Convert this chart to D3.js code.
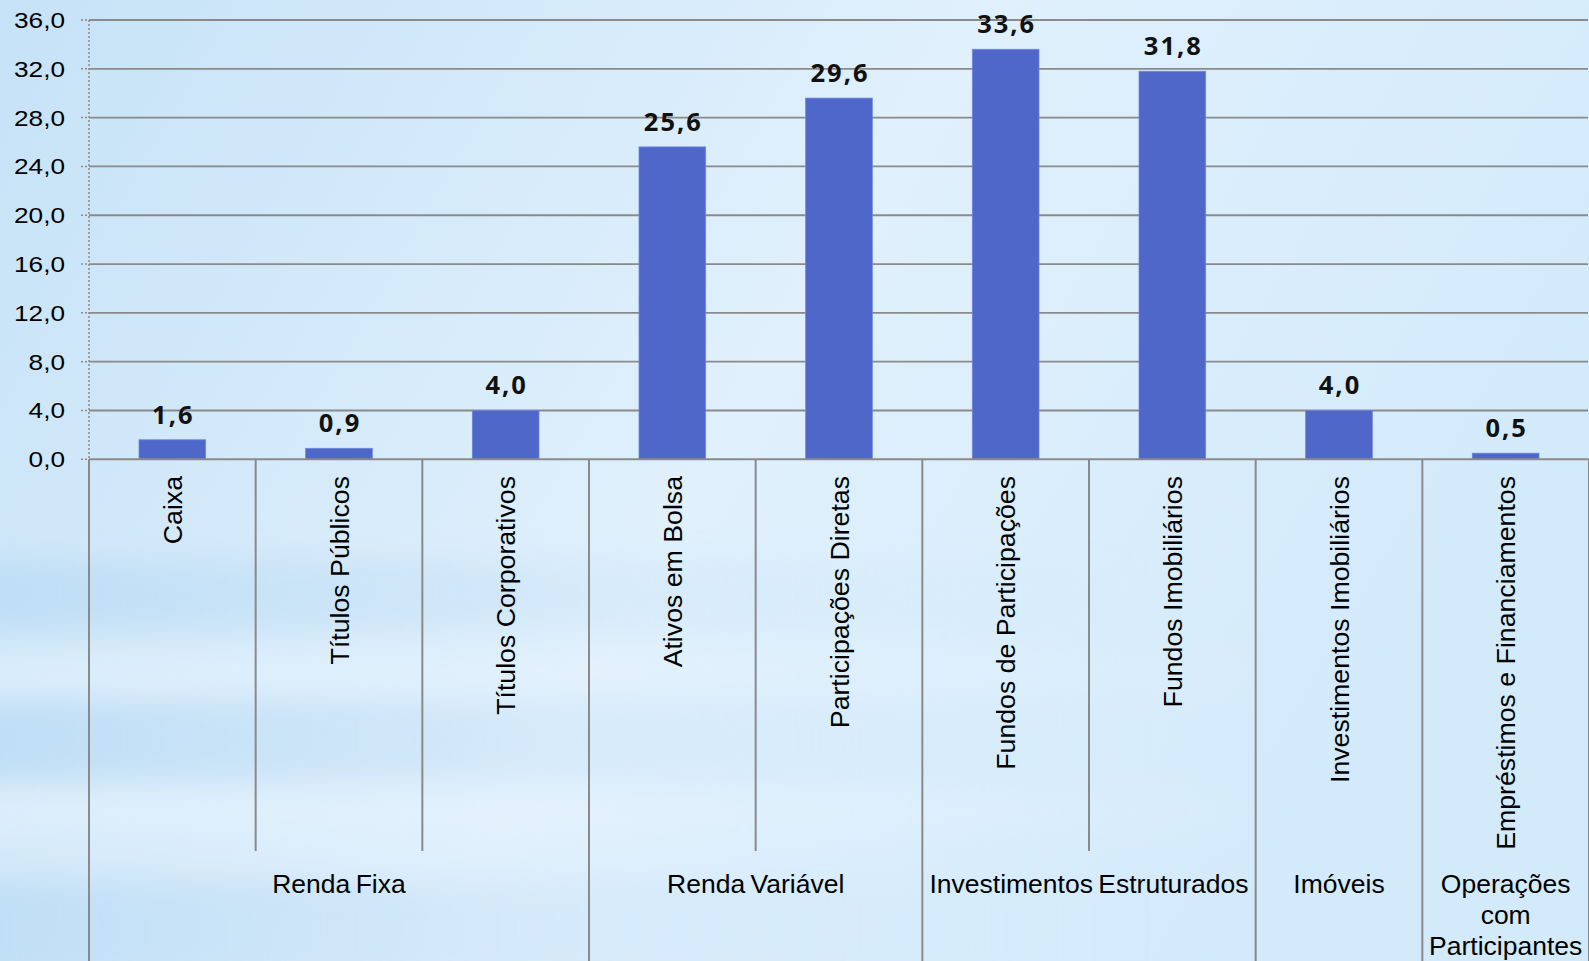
<!DOCTYPE html>
<html>
<head>
<meta charset="utf-8">
<script src="https://cdn.jsdelivr.net/npm/d3@7"></script>
<style>
  html, body { margin: 0; padding: 0; overflow: hidden; background: #d4eafa; }
  svg { display: block; }
</style>
</head>
<body>
<svg id="chart" width="1589" height="961"></svg>
<script>
// Allocation by asset type (%)
const categories = [
  "Caixa", "Títulos Públicos", "Títulos Corporativos",
  "Ativos em Bolsa", "Participações Diretas",
  "Fundos de Participações", "Fundos Imobiliários",
  "Investimentos Imobiliários",
  "Empréstimos e Financiamentos"
];
const values = [1.6, 0.9, 4.0, 25.6, 29.6, 33.6, 31.8, 4.0, 0.5];

// Asset groups: label lines and how many categories each spans
const groupLabels = [
  ["Renda Fixa"],
  ["Renda Variável"],
  ["Investimentos Estruturados"],
  ["Imóveis"],
  ["Operações", "com", "Participantes"]
];
const groupSizes = [3, 2, 2, 1, 1];

const yTicks = [0, 4, 8, 12, 16, 20, 24, 28, 32, 36];

const W = 1589, H = 961;
const svg = d3.select("#chart");
const defs = svg.append("defs");

// ---- sky-like background ----
const bg = defs.append("linearGradient").attr("id", "bgGrad")
  .attr("x1", "0").attr("y1", "0").attr("x2", "1").attr("y2", "0.35");
bg.append("stop").attr("offset", "0").attr("stop-color", "#c6e2f7");
bg.append("stop").attr("offset", "0.55").attr("stop-color", "#e0f0fc");
bg.append("stop").attr("offset", "1").attr("stop-color", "#d3eafb");
svg.append("rect").attr("width", W).attr("height", H).attr("fill", "url(#bgGrad)");

const fade = defs.append("linearGradient").attr("id", "fadeRight")
  .attr("x1", "0").attr("y1", "0").attr("x2", "1").attr("y2", "0");
fade.append("stop").attr("offset", "0").attr("stop-color", "#b6d8f3").attr("stop-opacity", 0.7);
fade.append("stop").attr("offset", "0.5").attr("stop-color", "#bddcf5").attr("stop-opacity", 0.3);
fade.append("stop").attr("offset", "1").attr("stop-color", "#c6e2f8").attr("stop-opacity", 0.0);

const fadeLight = defs.append("linearGradient").attr("id", "fadeLight")
  .attr("x1", "0").attr("y1", "0").attr("x2", "1").attr("y2", "0");
fadeLight.append("stop").attr("offset", "0").attr("stop-color", "#e4f2fd").attr("stop-opacity", 0.55);
fadeLight.append("stop").attr("offset", "0.6").attr("stop-color", "#e8f4fd").attr("stop-opacity", 0.3);
fadeLight.append("stop").attr("offset", "1").attr("stop-color", "#e8f4fd").attr("stop-opacity", 0.1);

defs.append("filter").attr("id", "soft")
  .attr("x", "-10%").attr("y", "-50%").attr("width", "120%").attr("height", "200%")
  .append("feGaussianBlur").attr("stdDeviation", "20 14");

const streaks = svg.append("g").attr("filter", "url(#soft)");
// darker horizontal bands toward the lower left
[[560, 70], [700, 80], [880, 100]].forEach(([y, h]) => {
  streaks.append("rect").attr("x", -60).attr("y", y).attr("width", 1200).attr("height", h)
    .attr("fill", "url(#fadeRight)");
});
// lighter bands between them
[[655, 40], [790, 45]].forEach(([y, h]) => {
  streaks.append("rect").attr("x", -60).attr("y", y).attr("width", 1300).attr("height", h)
    .attr("fill", "url(#fadeLight)");
});

// ---- scales ----
const x0 = 89, x1 = 1589;
const yTop = 20, yBase = 459.3;
const x = d3.scaleBand().domain(categories).range([x0, x1]).paddingInner(0).paddingOuter(0);
const y = d3.scaleLinear().domain([0, 36]).range([yBase, yTop]);
const fmt = v => d3.format(".1f")(v).replace(".", ",");
const gridColor = "#8a8a8a";

// ---- gridlines ----
svg.append("g")
  .selectAll("line").data(yTicks.filter(t => t > 0)).join("line")
  .attr("x1", x0).attr("x2", x1 - 1)
  .attr("y1", d => y(d)).attr("y2", d => y(d))
  .attr("stroke", gridColor).attr("stroke-width", 1.8);

// ---- y axis (dotted) ----
const yAxis = svg.append("g");
yAxis.append("line")
  .attr("x1", x0).attr("x2", x0).attr("y1", y(36)).attr("y2", y(0))
  .attr("stroke", "#8a8a8a").attr("stroke-width", 1.5).attr("stroke-dasharray", "2,2");
yAxis.selectAll("line.tick").data(yTicks).join("line").attr("class", "tick")
  .attr("x1", 81).attr("x2", x0)
  .attr("y1", d => y(d)).attr("y2", d => y(d))
  .attr("stroke", "#8a8a8a").attr("stroke-width", 1.5).attr("stroke-dasharray", "2,2");
yAxis.selectAll("text").data(yTicks).join("text")
  .attr("transform", d => `translate(65,${y(d) + 8}) scale(1.17,1)`)
  .attr("text-anchor", "end")
  .attr("font-family", "'Liberation Sans', Arial, sans-serif")
  .attr("font-size", 22.4)
  .attr("fill", "#000")
  .text(d => fmt(d));

// ---- bars ----
const barW = x.bandwidth() * 0.4;
svg.append("g")
  .selectAll("rect").data(values).join("rect")
  .attr("x", (d, i) => x(categories[i]) + (x.bandwidth() - barW) / 2)
  .attr("y", d => y(d))
  .attr("width", barW)
  .attr("height", d => y(0) - y(d))
  .attr("fill", "#4f67c8")
  .attr("stroke", "#6f86dc")
  .attr("stroke-width", 0.8);

// value labels
svg.append("g")
  .selectAll("text").data(values).join("text")
  .attr("x", (d, i) => x(categories[i]) + x.bandwidth() / 2 + 1)
  .attr("y", d => y(d) - 16)
  .attr("text-anchor", "middle")
  .attr("font-family", "'Open Sans', 'DejaVu Sans', sans-serif")
  .attr("font-weight", 700)
  .attr("font-size", 25.5)
  .attr("letter-spacing", 2)
  .attr("fill", "#111")
  .text(d => fmt(d));

// ---- category axis line ----
svg.append("line")
  .attr("x1", x0).attr("x2", x1).attr("y1", y(0)).attr("y2", y(0))
  .attr("stroke", gridColor).attr("stroke-width", 2);

// ---- separators below axis ----
const groupStarts = [];
groupSizes.reduce((acc, n) => { groupStarts.push(acc); return acc + n; }, 0);
const boundaries = d3.range(categories.length + 1);
svg.append("g")
  .selectAll("line").data(boundaries).join("line")
  .attr("x1", i => x0 + i * x.bandwidth())
  .attr("x2", i => x0 + i * x.bandwidth())
  .attr("y1", y(0))
  .attr("y2", i => (groupStarts.includes(i) || i === categories.length) ? H : 851)
  .attr("stroke", gridColor).attr("stroke-width", 2);

// rotated category labels
svg.append("g")
  .selectAll("text").data(categories).join("text")
  .attr("transform", d => `translate(${x(d) + x.bandwidth() / 2},476) rotate(-90)`)
  .attr("dy", "0.36em")
  .attr("text-anchor", "end")
  .attr("font-family", "'Liberation Sans', Arial, sans-serif")
  .attr("font-size", 26.7)
  .attr("fill", "#000")
  .text(d => d);

// group labels
const gLabels = svg.append("g")
  .attr("font-family", "'Liberation Sans', Arial, sans-serif")
  .attr("font-size", 26.5)
  .attr("fill", "#000")
  .attr("text-anchor", "middle");
groupLabels.forEach((lines, gi) => {
  const start = groupStarts[gi];
  const cx = x0 + (start + groupSizes[gi] / 2) * x.bandwidth();
  const t = gLabels.append("text").attr("x", cx).attr("y", 893).attr("word-spacing", -2);
  lines.forEach((ln, li) => {
    t.append("tspan").attr("x", cx).attr("dy", li === 0 ? 0 : 31).text(ln);
  });
});
</script>
</body>
</html>
